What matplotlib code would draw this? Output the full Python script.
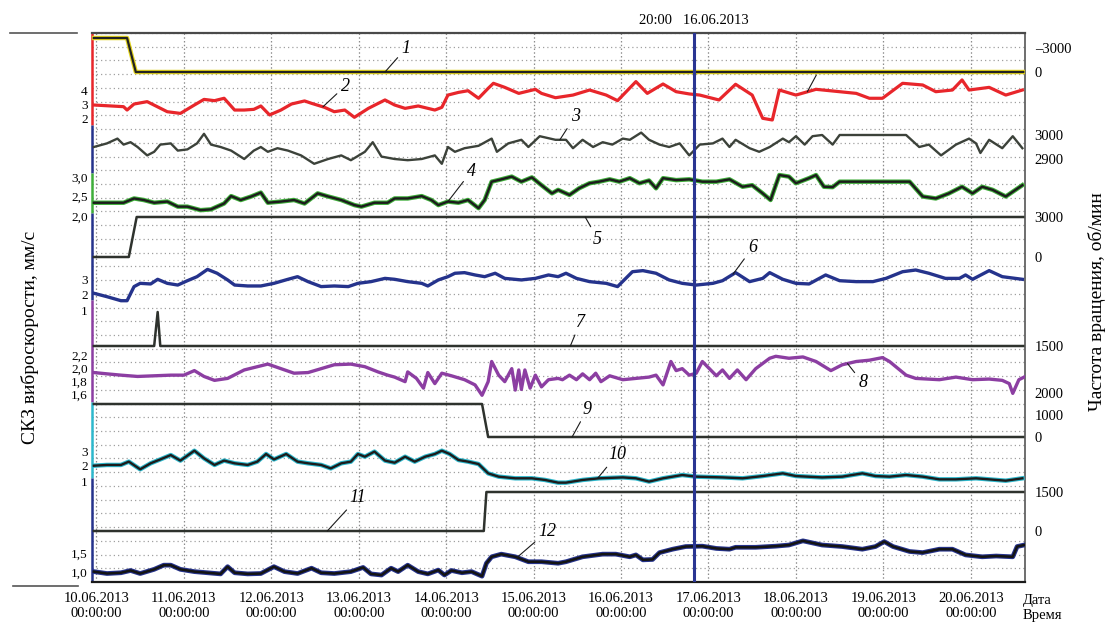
"""Тренды СКЗ виброскорости и частоты вращения, 10.06 - 20.06.2013."""

import numpy as np
import matplotlib
matplotlib.use("Agg")
import matplotlib.pyplot as plt
import matplotlib.dates as mdates
from matplotlib.lines import Line2D

plt.rcParams["font.family"] = ["Liberation Serif", "DejaVu Serif"]

# ---------------------------------------------------------------- данные
# время - сутки от 10.06.2013 00:00

# 1 - частота вращения, об/мин
t1 = [-0.03, 0.35, 0.45, 10.6]
v1 = [-4250, -4250, 0, 0]

# 2 - СКЗ виброскорости, мм/с
t2 = [-0.03, 0.31, 0.35, 0.43, 0.58, 0.81, 0.96, 1.12, 1.23, 1.35, 1.46, 1.58, 1.69, 1.80,
      1.88, 1.98, 2.11, 2.23, 2.38, 2.46, 2.61, 2.72, 2.84, 2.95, 3.11, 3.30, 3.41, 3.53,
      3.68, 3.87, 3.95, 4.02, 4.14, 4.25, 4.37, 4.48, 4.54, 4.67, 4.83, 5.02, 5.09, 5.25,
      5.45, 5.64, 5.83, 5.96, 6.17, 6.30, 6.48, 6.63, 6.78, 6.90, 7.12, 7.31, 7.50, 7.62,
      7.73, 7.81, 8.00, 8.23, 8.50, 8.69, 8.84, 8.99, 9.22, 9.45, 9.60, 9.79, 9.90, 9.98,
      10.21, 10.40, 10.59]
v2 = [3.0, 2.88, 2.64, 3.07, 3.24, 2.52, 2.40, 3.0, 3.40, 3.31, 3.48, 2.64, 2.64, 2.69,
      2.93, 2.29, 2.64, 3.07, 3.29, 3.12, 2.83, 2.52, 2.64, 2.12, 2.76, 3.36, 3.0, 2.76,
      2.93, 2.64, 2.83, 3.71, 3.90, 4.02, 3.48, 4.19, 4.55, 4.26, 3.83, 4.12, 3.83, 3.52,
      3.71, 4.07, 3.71, 3.31, 4.67, 3.83, 4.5, 3.95, 3.79, 3.71, 3.36, 4.48, 3.71, 2.05,
      1.93, 4.07, 3.71, 4.12, 3.95, 3.83, 3.48, 3.48, 4.55, 4.43, 3.95, 4.07, 4.79, 4.07,
      4.26, 3.71, 4.07]

# 3 - частота вращения, об/мин
t3 = [-0.03, 0.12, 0.24, 0.31, 0.39, 0.47, 0.58, 0.66, 0.73, 0.85, 0.93, 1.04, 1.15, 1.23,
      1.31, 1.42, 1.54, 1.69, 1.80, 1.88, 1.96, 2.07, 2.19, 2.34, 2.49, 2.65, 2.80, 2.91,
      3.07, 3.16, 3.26, 3.41, 3.56, 3.72, 3.87, 3.95, 4.02, 4.10, 4.21, 4.37, 4.52, 4.58,
      4.71, 4.86, 4.94, 5.07, 5.25,
      5.37, 5.45, 5.56, 5.68, 5.79, 5.90, 6.02, 6.10, 6.23, 6.32, 6.44, 6.55, 6.67, 6.78,
      6.90, 7.05, 7.16, 7.24, 7.31, 7.47, 7.58, 7.70, 7.85, 7.92, 8.00, 8.10, 8.19, 8.30,
      8.42, 8.50, 9.26, 9.41, 9.52, 9.66, 9.83, 9.98, 10.06, 10.11, 10.21, 10.36, 10.48,
      10.59]
v3 = [2950, 2965, 2985, 2960, 2970, 2950, 2915, 2930, 2960, 2965, 2935, 2940, 2965, 3005,
      2960, 2950, 2935, 2900, 2935, 2950, 2930, 2945, 2935, 2915, 2880, 2900, 2915, 2895,
      2930, 2970, 2910, 2900, 2895, 2900, 2915, 2880, 2950, 2930, 2945, 2955, 2985, 2930,
      2965, 2980, 2950, 2995, 2980,
      2980, 2945, 2980, 2950, 2970, 2960, 2985, 2980, 3010, 2980, 2960, 2950, 2965, 2915,
      2960, 2965, 2985, 2950, 2980, 2945, 2930, 2950, 2985, 2970, 2995, 2960, 2995, 3000,
      2960, 3000, 3000, 2950, 2960, 2915, 2960, 2985, 2965, 2925, 2980, 2945, 2995, 2945]

# 4 - СКЗ виброскорости, мм/с
t4 = [-0.03, 0.31, 0.43, 0.54, 0.66, 0.81, 0.93, 1.04, 1.19, 1.31, 1.46, 1.54, 1.65, 1.77,
      1.88, 1.96, 2.11, 2.26, 2.38, 2.53, 2.65, 2.80, 2.95, 3.03, 3.18, 3.33, 3.41, 3.56,
      3.72, 3.83, 3.91, 4.02, 4.14, 4.25, 4.37, 4.44, 4.52, 4.63, 4.75, 4.86, 4.98, 5.09,
      5.21, 5.28,
      5.41, 5.52, 5.64, 5.75, 5.87, 5.98, 6.10, 6.21, 6.32, 6.40, 6.48, 6.63, 6.78, 6.93,
      7.09, 7.24, 7.39, 7.50, 7.62, 7.71, 7.81, 7.92, 8.00, 8.15, 8.23, 8.32, 8.42, 8.50,
      9.30, 9.45, 9.60, 9.75, 9.90, 10.02, 10.13, 10.25, 10.40, 10.59]
v4 = [2.34, 2.34, 2.45, 2.41, 2.34, 2.37, 2.24, 2.24, 2.15, 2.17, 2.32, 2.51, 2.41, 2.50,
      2.60, 2.34, 2.37, 2.41, 2.32, 2.58, 2.50, 2.41, 2.28, 2.24, 2.34, 2.34, 2.45, 2.45,
      2.51, 2.41, 2.28, 2.37, 2.34, 2.41, 2.20, 2.41, 2.88, 2.94, 3.01, 2.88, 2.99, 2.79,
      2.58, 2.67,
      2.54, 2.71, 2.84, 2.88, 2.94, 2.88, 2.97, 2.84, 2.91, 2.71, 2.97, 2.92, 2.94, 2.88,
      2.88, 2.94, 2.75, 2.79, 2.58, 2.41, 3.05, 3.01, 2.84, 2.97, 3.05, 2.75, 2.74, 2.88,
      2.88, 2.50, 2.45, 2.58, 2.75, 2.58, 2.75, 2.67, 2.50, 2.79]

# 5 - частота вращения, об/мин
t5 = [-0.03, 0.37, 0.46, 10.6]
v5 = [0, 0, 3000, 3000]

# 6 - СКЗ виброскорости, мм/с
t6 = [-0.03, 0.12, 0.28, 0.35, 0.43, 0.50, 0.62, 0.70, 0.81, 0.93, 1.04, 1.15, 1.27, 1.38,
      1.50, 1.58, 1.73, 1.88, 2.03, 2.19, 2.30, 2.42, 2.57, 2.72, 2.88, 2.99, 3.14, 3.30,
      3.41, 3.56, 3.72, 3.79, 3.91, 4.02, 4.10, 4.21, 4.33, 4.44, 4.56, 4.67, 4.86, 5.02,
      5.17, 5.28,
      5.37, 5.49, 5.64, 5.83, 5.96, 6.13, 6.25, 6.40, 6.55, 6.70, 6.86, 7.05, 7.16, 7.31,
      7.47, 7.62, 7.70, 7.85, 8.00, 8.15, 8.34, 8.50, 8.69, 8.88, 9.03, 9.22, 9.37, 9.52,
      9.71, 9.87, 9.94, 10.02, 10.21, 10.36, 10.59]
v6 = [2.08, 1.86, 1.60, 1.60, 2.51, 2.72, 2.68, 2.98, 2.72, 2.61, 2.89, 3.15, 3.62, 3.37,
      2.94, 2.61, 2.55, 2.55, 2.72, 2.98, 3.15, 2.83, 2.51, 2.55, 2.51, 2.72, 2.83, 3.04,
      2.98, 2.83, 2.72, 2.55, 2.94, 3.15, 3.37, 3.41, 3.26, 3.15, 3.37, 3.04, 2.94, 3.04,
      3.26, 3.15,
      3.37, 3.04, 2.83, 2.72, 2.51, 3.47, 3.54, 3.37, 2.94, 2.72, 2.61, 2.72, 2.89, 3.41,
      2.83, 3.04, 3.41, 2.98, 2.72, 2.68, 3.26, 2.89, 2.83, 2.83, 3.04, 3.47, 3.58, 3.37,
      3.04, 3.04, 3.26, 2.98, 3.54, 3.15, 2.98]

# 7 - частота вращения, об/мин
t7 = [-0.03, 0.66, 0.70, 0.73, 10.6]
v7 = [1500, 1500, 3000, 1500, 1500]

# 8 - СКЗ виброскорости, мм/с
t8 = [-0.03, 0.12, 0.28, 0.47, 0.66, 0.85, 1.00, 1.12, 1.23, 1.35, 1.50, 1.69, 1.84, 1.96,
      2.11, 2.26, 2.42, 2.57, 2.72, 2.91, 3.07, 3.22, 3.33, 3.41, 3.53, 3.56, 3.66, 3.74,
      3.79, 3.87, 3.95, 4.06, 4.21, 4.33, 4.41, 4.48, 4.52, 4.60, 4.67, 4.75, 4.79, 4.83,
      4.86, 4.90, 4.96, 5.02, 5.09, 5.17, 5.28,
      5.33, 5.41, 5.49, 5.56, 5.64, 5.71, 5.77, 5.87, 6.02, 6.17, 6.32, 6.40, 6.48, 6.57,
      6.63, 6.70, 6.78, 6.86, 6.93, 7.01, 7.09, 7.16, 7.24, 7.33, 7.43, 7.54, 7.70, 7.77,
      7.92, 8.08, 8.23, 8.40, 8.53, 8.69, 8.84, 8.99, 9.07, 9.26, 9.37, 9.64, 9.83, 10.02,
      10.21, 10.36, 10.44, 10.48, 10.55, 10.61]
v8 = [1.93, 1.91, 1.89, 1.87, 1.88, 1.89, 1.89, 1.96, 1.87, 1.81, 1.84, 1.97, 2.02, 2.06,
      1.99, 1.92, 1.93, 1.99, 2.05, 2.06, 2.02, 1.94, 1.89, 1.86, 1.79, 1.94, 1.84, 1.69,
      1.93, 1.76, 1.92, 1.88, 1.82, 1.74, 1.58, 1.79, 2.10, 1.89, 1.79, 1.99, 1.66, 1.97,
      1.67, 1.97, 1.69, 1.89, 1.71, 1.82, 1.84,
      1.82, 1.89, 1.82, 1.91, 1.82, 1.92, 1.79, 1.88, 1.82, 1.84, 1.86, 1.89, 1.74, 2.10,
      1.96, 1.99, 1.89, 1.92, 2.10, 1.99, 1.88, 1.97, 1.84, 1.97, 1.82, 1.99, 2.15, 2.18,
      2.15, 2.17, 2.10, 1.96, 2.05, 2.10, 2.12, 2.16, 2.10, 1.89, 1.84, 1.82, 1.86, 1.82,
      1.83, 1.81, 1.76, 1.61, 1.82, 1.86]

# 9 - частота вращения, об/мин
t9 = [-0.03, 4.41, 4.48, 10.6]
v9 = [1500, 1500, 0, 0]

# 10 - СКЗ виброскорости, мм/с
t10 = [-0.03, 0.12, 0.28, 0.37, 0.50, 0.62, 0.73, 0.85, 0.96, 1.12, 1.23, 1.35, 1.46, 1.58,
       1.73, 1.84, 1.94, 2.03, 2.17, 2.30, 2.42, 2.57, 2.68, 2.80, 2.91, 2.99, 3.07, 3.18,
       3.30, 3.41, 3.53, 3.64, 3.76, 3.87, 3.95, 4.04, 4.14, 4.25, 4.37, 4.48, 4.60, 4.79,
       4.98, 5.13, 5.28,
       5.37, 5.56, 5.75, 6.02, 6.17, 6.32, 6.48, 6.70, 6.86, 7.16, 7.39, 7.62, 7.85, 8.00,
       8.30, 8.53, 8.76, 8.91, 9.07, 9.26, 9.45, 9.64, 9.83, 10.06, 10.21, 10.40, 10.59]
v10 = [2.02, 2.07, 2.07, 2.29, 1.78, 2.18, 2.44, 2.73, 2.36, 3.02, 2.51, 2.07, 2.36, 2.18,
       2.07, 2.29, 2.80, 2.44, 2.80, 2.29, 2.18, 2.07, 1.84, 2.18, 2.29, 2.80, 2.62, 2.96,
       2.36, 2.22, 2.62, 2.29, 2.62, 2.80, 3.02, 2.80, 2.40, 2.29, 2.13, 1.51, 1.29, 1.18,
       1.18, 1.07, 0.89,
       0.89, 1.07, 1.18, 1.24, 1.18, 0.96, 1.18, 1.40, 1.29, 1.24, 1.18, 1.33, 1.51, 1.33,
       1.24, 1.29, 1.51, 1.33, 1.29, 1.40, 1.29, 1.11, 1.11, 1.18, 1.11, 1.02, 1.18]

# 11 - частота вращения, об/мин
t11 = [-0.03, 4.43, 4.46, 10.6]
v11 = [0, 0, 1500, 1500]

# 12 - СКЗ виброскорости, мм/с
t12 = [-0.03, 0.12, 0.28, 0.39, 0.50, 0.66, 0.77, 0.85, 0.96, 1.12, 1.27, 1.42, 1.50, 1.58,
       1.73, 1.88, 2.03, 2.15, 2.30, 2.46, 2.57, 2.72, 2.91, 3.05, 3.14, 3.26, 3.37, 3.45,
       3.56, 3.68, 3.79, 3.91, 3.98, 4.06, 4.18, 4.29, 4.41, 4.46, 4.52, 4.63, 4.79, 4.94,
       5.09, 5.28,
       5.37, 5.56, 5.79, 5.94, 6.10, 6.17, 6.25, 6.36, 6.44, 6.59, 6.74, 6.93, 7.09, 7.24,
       7.31, 7.54, 7.77, 7.92, 8.08, 8.30, 8.53, 8.76, 8.91, 9.01, 9.11, 9.30, 9.45, 9.64,
       9.79, 9.94, 10.13, 10.29, 10.48, 10.53, 10.61]
v12 = [1.01, 0.96, 0.98, 1.04, 0.96, 1.07, 1.18, 1.18, 1.07, 1.01, 0.98, 0.95, 1.14, 0.98,
       0.95, 0.96, 1.14, 1.01, 0.96, 1.10, 0.98, 0.96, 1.01, 1.12, 0.95, 0.92, 1.10, 1.01,
       1.18, 1.01, 0.95, 1.05, 0.92, 1.04, 0.98, 1.01, 0.89, 1.23, 1.40, 1.47, 1.40, 1.27,
       1.27, 1.23,
       1.27, 1.40, 1.47, 1.47, 1.40, 1.45, 1.32, 1.33, 1.51, 1.60, 1.67, 1.68, 1.62, 1.60,
       1.65, 1.65, 1.68, 1.71, 1.82, 1.71, 1.67, 1.60, 1.67, 1.80, 1.67, 1.54, 1.51, 1.60,
       1.60, 1.45, 1.40, 1.42, 1.40, 1.67, 1.71]

# подписи шкал
ticks_left = {
    2: ([4, 3, 2], ["4", "3", "2"]),
    4: ([3.0, 2.5, 2.0], ["3,0", "2,5", "2,0"]),
    6: ([3, 2, 1], ["3", "2", "1"]),
    8: ([2.2, 2.0, 1.8, 1.6], ["2,2", "2,0", "1,8", "1,6"]),
    10: ([3, 2, 1], ["3", "2", "1"]),
    12: ([1.5, 1.0], ["1,5", "1,0"]),
}
ticks_right = {
    1: ([-3000, 0], ["\u20133000", "0"]),
    3: ([3000, 2900], ["3000", "2900"]),
    5: ([3000, 0], ["3000", "0"]),
    7: ([1500], ["1500"]),
    9: ([2000, 1000, 0], ["2000", "1000", "0"]),
    11: ([1500, 0], ["1500", "0"]),
}

marker_t = 6 + 20 / 24          # 16.06.2013 20:00

# ---------------------------------------------------------------- разметка
W, H = 1107, 626
L, R, T, B = 92, 1025, 33, 582
rect = [L / W, 1 - B / H, (R - L) / W, (B - T) / H]
base = mdates.date2num(np.datetime64("2013-06-10T00:00"))

# положение каждого канала: (значение, пиксель) x 2
calib = {
    1: (0, 72, -3000, 48),
    2: (3, 105, 4, 91),
    3: (3000, 135, 2900, 159),
    4: (3.0, 177, 2.0, 216),
    5: (3000, 217, 0, 257),
    6: (3, 279, 1, 310),
    7: (1500, 346, 3000, 312),
    8: (2.0, 368, 1.6, 394),
    9: (1500, 404, 0, 437),
    10: (2, 466, 1, 481),
    11: (1500, 492, 0, 531),
    12: (1.0, 572, 1.5, 553),
}

# стиль: (цвет подложки, ширина подложки, цвет линии, ширина линии)
styles = {
    1: ("#e3d41c", 3.2, "#222222", 1.6),
    2: (None, 0, "#e8262b", 2.3),
    3: (None, 0, "#3c423a", 1.7),
    4: ("#3fae3a", 3.2, "#1c1c1c", 1.7),
    5: (None, 0, "#2e322d", 1.8),
    6: (None, 0, "#25338c", 2.4),
    7: (None, 0, "#2e322d", 1.8),
    8: (None, 0, "#8c3ea2", 2.4),
    9: (None, 0, "#2e322d", 1.8),
    10: ("#2db8cc", 3.2, "#1c1c1c", 1.7),
    11: (None, 0, "#2e322d", 1.8),
    12: ("#26338c", 3.4, "#141414", 1.8),
}

series = {1: (t1, v1), 2: (t2, v2), 3: (t3, v3), 4: (t4, v4), 5: (t5, v5), 6: (t6, v6),
          7: (t7, v7), 8: (t8, v8), 9: (t9, v9), 10: (t10, v10), 11: (t11, v11),
          12: (t12, v12)}

# номера кривых: (текст, канал, время выноски, смещение текста, pt)
labels = [("1", 1, 3.30, (15, 17)), ("2", 2, 2.59, (16, 15)), ("3", 3, 5.30, (11, 17)),
          ("4", 4, 4.02, (17, 22)), ("5", 5, 5.59, (9, -16)), ("6", 6, 7.28, (14, 19)),
          ("7", 7, 5.42, (7, 17)), ("8", 8, 8.59, (11, -14)), ("9", 9, 5.44, (11, 20)),
          ("10", 10, 5.73, (14, 17)), ("11", 11, 2.64, (22, 24)),
          ("12", 12, 4.81, (22, 19)), ("", 2, 8.13, (7, 13))]

fig = plt.figure(figsize=(W / 100, H / 100), dpi=100)

# основная ось: сетка, даты, рамка
ax = fig.add_axes(rect)
ax.set_xlim(base - 0.051, base + 10.62)
ax.set_ylim(0, 40)
ax.set_yticks(np.arange(0, 41))
ax.tick_params(axis="y", left=False, labelleft=False)
ax.xaxis.set_major_locator(mdates.DayLocator())
ax.xaxis.set_major_formatter(mdates.DateFormatter("%d.%m.%Y\n%H:%M:%S"))
ax.tick_params(axis="x", length=0, pad=7, labelsize=10.5)
ax.grid(axis="y", color="#a0a0a0", linestyle=(0, (1, 2.4)), linewidth=0.9)
ax.grid(axis="x", color="#8c8c8c", linestyle=(0, (1.2, 1.8)), linewidth=0.9)
ax.spines["top"].set_color("#4a4a4a")
ax.spines["top"].set_linewidth(1.6)
ax.spines["right"].set_color("#555555")
ax.spines["right"].set_linewidth(1.2)
ax.spines["bottom"].set_color("#1a1a1a")
ax.spines["bottom"].set_linewidth(1.6)
ax.spines["left"].set_visible(False)

# левая ось раскрашена по каналам
left_colors = [(33, 125, "#e8262b"), (125, 173, "#25338c"), (173, 213, "#3fae3a"),
               (213, 300, "#25338c"), (300, 402, "#8c3ea2"), (402, 478, "#2db8cc"),
               (478, 582, "#25338c")]
for y0, y1, c in left_colors:
    ax.plot([0, 0], [(B - y0) / (B - T), (B - y1) / (B - T)], transform=ax.transAxes,
            color=c, lw=1.8, clip_on=False, solid_capstyle="butt")

band_axes = {}
for n in range(1, 13):
    va, ya, vb, yb = calib[n]
    b = fig.add_axes(rect, sharex=ax)
    k = (vb - va) / (yb - ya)
    b.set_ylim(va + (B - ya) * k, va + (T - ya) * k)
    b.patch.set_visible(False)
    for s in b.spines.values():
        s.set_visible(False)
    b.tick_params(axis="x", bottom=False, labelbottom=False)
    if n in ticks_left:
        tv, tl = ticks_left[n]
        b.set_yticks(tv, tl)
        b.tick_params(axis="y", length=0, pad=3, labelsize=9.5)
    else:
        tv, tl = ticks_right[n]
        b.yaxis.tick_right()
        b.set_yticks(tv, tl)
        b.tick_params(axis="y", length=0, pad=7, labelsize=10.5)
    b.set_ylim(va + (B - ya) * k, va + (T - ya) * k)

    t, v = series[n]
    x = base + np.asarray(t)
    under_c, under_w, c, w = styles[n]
    if under_c:
        b.plot(x, v, color=under_c, lw=under_w, solid_joinstyle="round")
    b.plot(x, v, color=c, lw=w, solid_joinstyle="round")
    band_axes[n] = b

# вертикальный маркер 16.06.2013 20:00
top = band_axes[12]
top.axvline(base + marker_t, color="#2a3592", lw=2.2)
ax.text(base + marker_t, (B - 20) / (B - T), "20:00   16.06.2013",
        transform=ax.get_xaxis_transform(), ha="center", va="center", fontsize=10.5)

# номера кривых с выносками
for txt, n, tl_, off in labels:
    t, v = series[n]
    band_axes[n].annotate(txt, xy=(base + tl_, np.interp(tl_, t, v)), xytext=off,
                          textcoords="offset points", ha="center", va="center",
                          fontsize=13, style="italic",
                          arrowprops=dict(arrowstyle="-", lw=0.8, color="#1a1a1a",
                                          shrinkA=1, shrinkB=0))

# подписи осей
fig.text(30 / W, 1 - 337 / H, "СКЗ виброскорости, мм/с", rotation=90,
         ha="center", va="center", fontsize=14)
fig.text(1097 / W, 1 - 302 / H, "Частота вращения, об/мин", rotation=90,
         ha="center", va="center", fontsize=14)
fig.text(1023 / W, 1 - 594 / H, "Дата\nВремя", ha="left", va="top", fontsize=10.5,
         linespacing=1.25)

# короткие штрихи слева
fig.add_artist(Line2D([10 / W, 77 / W], [1 - 33 / H] * 2, color="#555555", lw=1.2))
fig.add_artist(Line2D([13 / W, 78 / W], [1 - 586 / H] * 2, color="#555555", lw=1.2))

fig.savefig("out.png", dpi=100)
